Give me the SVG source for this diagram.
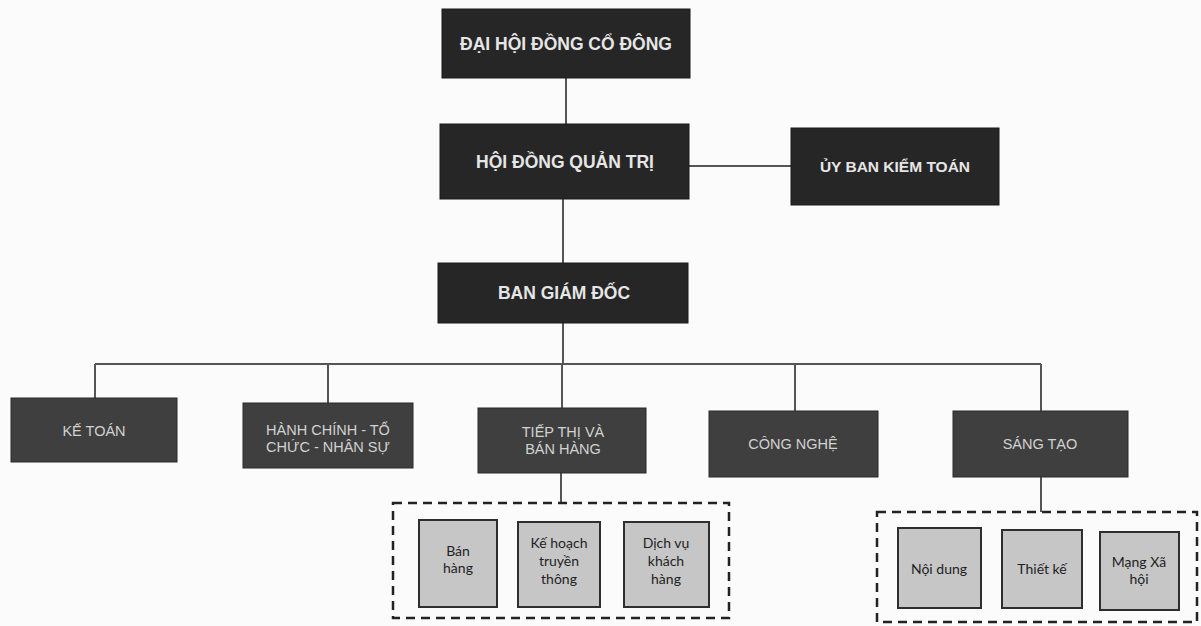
<svg xmlns="http://www.w3.org/2000/svg" width="1201" height="626" viewBox="0 0 1201 626">
<style>
.top{fill:#262626;stroke:#1a1a1a;stroke-width:1}
.dept{fill:#3f3f3f;stroke:#2a2a2a;stroke-width:1}
.sub{fill:#c6c6c6;stroke:#2e2e2e;stroke-width:2}
.grp{fill:none;stroke:#222;stroke-width:2.5;stroke-dasharray:9,6}
.conn{stroke:#555;stroke-width:2;fill:none}
.tt{font-family:"Liberation Sans",Arial,sans-serif;font-weight:bold;fill:#e6e6e6;text-anchor:middle}
.dt{font-family:"Liberation Sans",Arial,sans-serif;font-size:14.5px;fill:#d2d2d2;text-anchor:middle}
.st{font-family:Lato,"Open Sans",sans-serif;font-size:14px;fill:#1e1e1e;text-anchor:middle}
</style>
<rect width="1201" height="626" fill="#fbfbfb"/>
<g id="connectors">
<line class="conn" x1="566" y1="78" x2="566" y2="124"/>
<line class="conn" x1="689" y1="166" x2="791" y2="166"/>
<line class="conn" x1="563" y1="199" x2="563" y2="364"/>
<line class="conn" x1="95" y1="364" x2="1041" y2="364"/>
<line class="conn" x1="95" y1="364" x2="95" y2="398"/>
<line class="conn" x1="328" y1="364" x2="328" y2="403"/>
<line class="conn" x1="562" y1="364" x2="562" y2="408"/>
<line class="conn" x1="795" y1="364" x2="795" y2="412"/>
<line class="conn" x1="1041" y1="364" x2="1041" y2="412"/>
<line class="conn" x1="561" y1="473" x2="561" y2="503"/>
<line class="conn" x1="1041" y1="477" x2="1041" y2="512"/>
</g>
<g id="dhdcd">
<rect class="top" x="442" y="9" width="248" height="69"/>
<text class="tt" x="566" y="50" font-size="17.5">ĐẠI HỘI ĐỒNG CỔ ĐÔNG</text>
</g>
<g id="hdqt">
<rect class="top" x="440" y="124" width="249" height="75"/>
<text class="tt" x="565" y="168" font-size="17.5">HỘI ĐỒNG QUẢN TRỊ</text>
</g>
<g id="ubkt">
<rect class="top" x="791" y="128" width="208" height="77"/>
<text class="tt" x="895" y="172" font-size="15.5">ỦY BAN KIỂM TOÁN</text>
</g>
<g id="bgd">
<rect class="top" x="438" y="263" width="250" height="60"/>
<text class="tt" x="564" y="299" font-size="17.5">BAN GIÁM ĐỐC</text>
</g>
<g id="ketoan">
<rect class="dept" x="11" y="398" width="166" height="64"/>
<text class="dt" x="94" y="436">KẾ TOÁN</text>
</g>
<g id="hanhchinh">
<rect class="dept" x="243" y="403" width="170" height="65"/>
<text class="dt" x="328" y="435">HÀNH CHÍNH - TỔ</text>
<text class="dt" x="328" y="452">CHỨC - NHÂN SỰ</text>
</g>
<g id="tiepthi">
<rect class="dept" x="478" y="408" width="168" height="65"/>
<text class="dt" x="563" y="437">TIẾP THỊ VÀ</text>
<text class="dt" x="563" y="454">BÁN HÀNG</text>
</g>
<g id="congnghe">
<rect class="dept" x="709" y="411" width="169" height="66"/>
<text class="dt" x="793" y="449">CÔNG NGHỆ</text>
</g>
<g id="sangtao">
<rect class="dept" x="953" y="411" width="175" height="66"/>
<text class="dt" x="1040" y="449">SÁNG TẠO</text>
</g>
<g id="nhom-tiepthi">
<rect class="grp" x="393" y="503" width="336" height="115"/>
</g>
<g id="banhang">
<rect class="sub" x="419" y="520" width="78" height="87"/>
<text class="st" x="458" y="556">Bán</text>
<text class="st" x="458" y="573">hàng</text>
</g>
<g id="kehoach">
<rect class="sub" x="518" y="522" width="82" height="85"/>
<text class="st" x="559" y="548">Kế hoạch</text>
<text class="st" x="559" y="566">truyền</text>
<text class="st" x="559" y="584">thông</text>
</g>
<g id="dichvu">
<rect class="sub" x="624" y="522" width="85" height="85"/>
<text class="st" x="666" y="548">Dịch vụ</text>
<text class="st" x="666" y="566">khách</text>
<text class="st" x="666" y="584">hàng</text>
</g>
<g id="nhom-sangtao">
<rect class="grp" x="877" y="512" width="320" height="110"/>
</g>
<g id="noidung">
<rect class="sub" x="898" y="528" width="83" height="80"/>
<text class="st" x="939" y="574">Nội dung</text>
</g>
<g id="thietke">
<rect class="sub" x="1002" y="530" width="80" height="78"/>
<text class="st" x="1042" y="574">Thiết kế</text>
</g>
<g id="mangxahoi">
<rect class="sub" x="1100" y="532" width="79" height="78"/>
<text class="st" x="1139" y="567">Mạng Xã</text>
<text class="st" x="1139" y="584">hội</text>
</g>
</svg>
